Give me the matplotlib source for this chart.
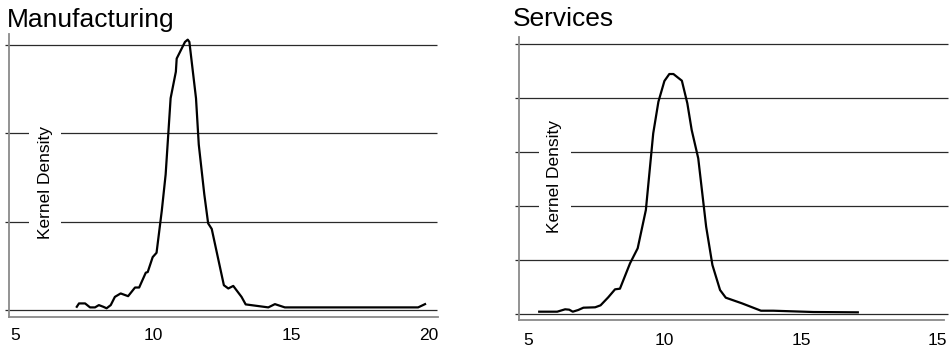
import matplotlib.pyplot as plt

plt.rcParams['font.family'] = ['Liberation Sans', 'DejaVu Sans']

# Manufacturing kernel density
mfg_x = [7.24, 7.32, 7.54, 7.72, 7.90, 8.04, 8.20, 8.32, 8.47, 8.62, 8.83, 9.10,
         9.35, 9.50, 9.74, 9.81, 9.99, 10.13, 10.32, 10.46, 10.64, 10.83, 10.86,
         10.98, 11.16, 11.26, 11.32, 11.56, 11.66, 11.86, 12.00, 12.13, 12.57,
         12.73, 12.91, 13.21, 13.36, 14.18, 14.42, 14.78, 19.61, 19.86]
mfg_y = [0.0037, 0.0075, 0.0075, 0.0030, 0.0030, 0.0056, 0.0037, 0.0020, 0.0056,
         0.0149, 0.0188, 0.0157, 0.0255, 0.0255, 0.0423, 0.0430, 0.0599, 0.0648,
         0.1124, 0.1535, 0.2397, 0.2697, 0.2846, 0.2921, 0.3034, 0.3060, 0.3034,
         0.2397, 0.1873, 0.1311, 0.0981, 0.0918, 0.0281, 0.0244, 0.0273, 0.0149,
         0.0064, 0.0030, 0.0067, 0.0030, 0.0030, 0.0067]

# Services kernel density
svc_x = [5.40, 6.06, 6.35, 6.50, 6.63, 6.83, 7.02, 7.45, 7.65, 7.93, 8.18, 8.36,
         8.73, 9.01, 9.31, 9.58, 9.77, 9.99, 10.17, 10.32, 10.63, 10.83, 10.99,
         11.23, 11.52, 11.75, 12.03, 12.24, 12.83, 13.53, 13.98, 15.45, 17.08]
svc_y = [0.0043, 0.0043, 0.0087, 0.0080, 0.0043, 0.0074, 0.0117, 0.0124, 0.0161,
         0.0309, 0.0457, 0.0469, 0.0939, 0.1217, 0.1926, 0.3346, 0.3931, 0.4315,
         0.4444, 0.4444, 0.4320, 0.3902, 0.3407, 0.2883, 0.1617, 0.0907, 0.0444,
         0.0302, 0.0198, 0.0061, 0.0061, 0.0037, 0.0031]

x_ticks = [5, 10, 15, 20]
mfg_tick_labels = ["5", "10", "15", "20"]
svc_tick_labels = ["5", "10", "15", "15"]
mfg_grid = [0.0, 0.1, 0.2, 0.3]
svc_grid = [0.0, 0.1, 0.2, 0.3, 0.4, 0.5]

W, H = 952, 347
fig = plt.figure(figsize=(W / 100, H / 100), dpi=100)


def make_panel(box, xlim, ylim, xs, ys, grid, labels, title, title_xy,
               grid_ext, label_pos, tick_pad):
    x0, y0, x1, y1 = box  # pixel box, y measured from top
    ax = fig.add_axes([x0 / W, 1 - y1 / H, (x1 - x0) / W, (y1 - y0) / H])
    ax.set_xlim(*xlim)
    ax.set_ylim(*ylim)
    px_per_unit = (x1 - x0) / (xlim[1] - xlim[0])
    left_ext, right_ext = grid_ext
    ax.hlines(grid, xlim[0] - left_ext / px_per_unit,
              xlim[1] + right_ext / px_per_unit,
              color="#2a2a2a", lw=0.9, zorder=1, clip_on=False)
    ax.plot(xs, ys, color="black", lw=1.6, zorder=3)
    for side in ["top", "right"]:
        ax.spines[side].set_visible(False)
    for side in ["left", "bottom"]:
        ax.spines[side].set_color("#8a8a8a")
        ax.spines[side].set_linewidth(1.3)
    ax.set_yticks([])
    ax.set_xticks(x_ticks)
    ax.set_xticklabels(labels, fontsize=12.5)
    ax.tick_params(axis="x", length=0, pad=tick_pad)
    ax.text(label_pos[0], label_pos[1], "Kernel Density", rotation=90,
            transform=ax.transAxes, ha="center", va="center", fontsize=12.5,
            zorder=4, bbox=dict(facecolor="white", edgecolor="none", pad=6))
    fig.text(title_xy[0] / W, 1 - title_xy[1] / H, title, fontsize=19,
             ha="left", va="baseline")
    return ax


make_panel((9, 34, 438, 317), (4.783, 20.33), (-0.00787, 0.3124),
           mfg_x, mfg_y, mfg_grid, mfg_tick_labels, "Manufacturing", (7, 27),
           (4, -1), (0.084, 0.477), 8)
make_panel((519.3, 36.7, 944, 320), (4.67, 20.24), (-0.0111, 0.5135),
           svc_x, svc_y, svc_grid, svc_tick_labels, "Services", (513, 26),
           (4, 4), (0.084, 0.506), 9.5)

fig.savefig("out.png", dpi=100)
